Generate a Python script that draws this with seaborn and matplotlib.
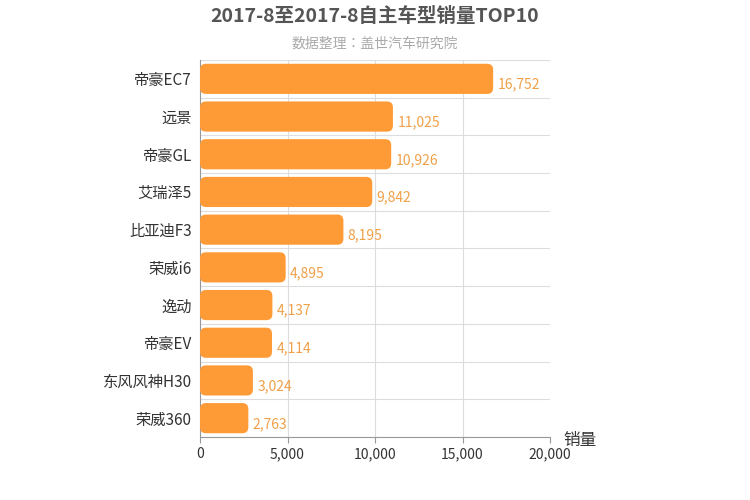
import matplotlib
matplotlib.use("Agg")
import matplotlib.pyplot as plt
from matplotlib import font_manager
import seaborn as sns
import pandas as pd
from matplotlib.patches import FancyBboxPatch

cjk = [f.name for f in font_manager.fontManager.ttflist if "CJK" in f.name]
cjk_name = sorted(set(cjk))[0] if cjk else "DejaVu Sans"
for n in ["Noto Sans CJK SC", "Noto Sans SC"]:
    if n in cjk:
        cjk_name = n
plt.rcParams["font.family"] = [cjk_name, "DejaVu Sans"]
plt.rcParams["font.sans-serif"] = [cjk_name, "DejaVu Sans"]

models = ["帝豪EC7", "远景", "帝豪GL", "艾瑞泽5", "比亚迪F3", "荣威i6", "逸动", "帝豪EV", "东风风神H30", "荣威360"]
sales = [16752, 11025, 10926, 9842, 8195, 4895, 4137, 4114, 3024, 2763]
xticks = [0, 5000, 10000, 15000, 20000]

df = pd.DataFrame({"model": models, "sales": sales})

fig = plt.figure(figsize=(7.5, 5), dpi=100)
ax = fig.add_axes([200 / 750, 1 - 437 / 500, 350 / 750, 377 / 500])
sns.barplot(data=df, y="model", x="sales", orient="h", color="#FF9B36", width=0.8, ax=ax)

# swap plain bars for rounded ones
for p in list(ax.patches):
    x0, y0, w, h = p.get_x(), p.get_y(), p.get_width(), p.get_height()
    p.remove()
    ax.add_patch(FancyBboxPatch((x0, y0), w, h,
                                boxstyle="round,pad=0,rounding_size=340",
                                mutation_aspect=0.16 / 340,
                                facecolor="#FF9B36", edgecolor="none", zorder=3))

for i, v in enumerate(sales):
    ax.text(v + 250, i + 0.15, f"{v:,}", color="#F0A048", fontsize=10,
            va="center", ha="left")

ax.set_xlim(0, 20000)
ax.set_ylim(len(models) - 0.5, -0.5)
ax.set_xticks(xticks)
ax.set_xticklabels([f"{t:,}" for t in xticks], fontsize=10, color="#333333")
ax.set_yticks(range(len(models)))
ax.set_yticklabels(models, fontsize=11, color="#333333")
ax.tick_params(axis="y", length=0, pad=6)
ax.tick_params(axis="x", length=4, color="#999999")
ax.set_ylabel("")
ax.set_xlabel("")
ax.xaxis.grid(True, color="#DDDDDD", linewidth=0.8, zorder=0)
ax.yaxis.grid(False)
ax.set_axisbelow(True)
for s in ["top", "right"]:
    ax.spines[s].set_visible(False)
ax.spines["left"].set_color("#999999")
ax.spines["bottom"].set_color("#999999")
for b in range(len(models) + 1):
    ax.axhline(b - 0.5, color="#DDDDDD", linewidth=0.8, zorder=0)

fig.text(375 / 750, 1 - 17 / 500, "2017-8至2017-8自主车型销量TOP10", ha="center", va="center",
         fontsize=14, fontweight="bold", color="#555555")
fig.text(375 / 750, 1 - 44 / 500, "数据整理：盖世汽车研究院", ha="center", va="center",
         fontsize=10, color="#AAAAAA")
fig.text(580 / 750, 1 - 441 / 500, "销量", ha="center", va="center", fontsize=12, color="#333333")

fig.savefig("out.png", dpi=100)
